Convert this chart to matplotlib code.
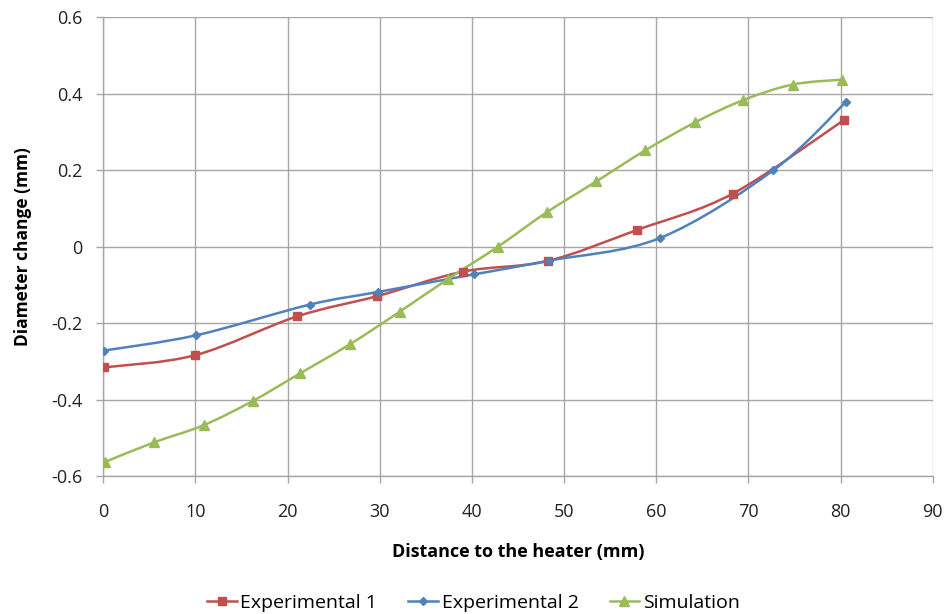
import matplotlib.pyplot as plt
from matplotlib.path import Path
from matplotlib.patches import PathPatch
from matplotlib.lines import Line2D
import numpy as np

# values
exp1_x = [0.1, 10.0, 21.0, 29.7, 39.0, 48.2, 57.9, 68.3, 80.4]
exp1_y = [-0.315, -0.283, -0.182, -0.129, -0.065, -0.037, 0.044, 0.139, 0.332]

exp2_x = [0.1, 10.1, 22.4, 29.8, 40.2, 48.4, 60.4, 72.7, 80.6]
exp2_y = [-0.271, -0.231, -0.151, -0.118, -0.072, -0.036, 0.023, 0.200, 0.379]

sim_x = [0.2, 5.5, 10.9, 16.2, 21.4, 26.8, 32.2, 37.4, 42.8, 48.1, 53.5, 58.8, 64.2, 69.4, 74.8, 80.2]
sim_y = [-0.562, -0.511, -0.466, -0.403, -0.330, -0.254, -0.169, -0.084, 0.0, 0.090, 0.171, 0.252, 0.325, 0.383, 0.424, 0.437]

labels = ['Experimental 1', 'Experimental 2', 'Simulation']
colors = ['#C0504D', '#4F81BD', '#9BBB59']
markers = ['s', 'D', '^']
msizes = [6, 4.5, 6.5]

plt.rcParams['font.family'] = ['Open Sans', 'DejaVu Sans']


def smooth_path(xs, ys):
    # Excel-like smoothed line: cubic Bezier through the points
    p = np.column_stack([xs, ys])
    n = len(p)
    verts = [p[0]]
    codes = [Path.MOVETO]
    for i in range(n - 1):
        p0 = p[i - 1] if i > 0 else p[i]
        p1 = p[i]
        p2 = p[i + 1]
        p3 = p[i + 2] if i + 2 < n else p[i + 1]
        c1 = p1 + (p2 - p0) / 6.0
        c2 = p2 - (p3 - p1) / 6.0
        verts += [c1, c2, p2]
        codes += [Path.CURVE4] * 3
    return Path(verts, codes)


fig = plt.figure(figsize=(9.47, 6.14), dpi=100)
ax = fig.add_axes([0.109, 0.224, 0.876, 0.748])

series = [(exp1_x, exp1_y), (exp2_x, exp2_y), (sim_x, sim_y)]
handles = []
for (xs, ys), lab, c, m, ms in zip(series, labels, colors, markers, msizes):
    ax.add_patch(PathPatch(smooth_path(xs, ys), facecolor='none', edgecolor=c, lw=1.8, zorder=3))
    ax.plot(xs, ys, linestyle='none', marker=m, color=c, markersize=ms, zorder=4)
    handles.append(Line2D([], [], color=c, lw=1.8, marker=m, markersize=ms))

ax.set_xlim(0, 90)
ax.set_ylim(-0.6, 0.6)
ax.set_xticks(range(0, 91, 10))
ax.set_yticks([-0.6, -0.4, -0.2, 0, 0.2, 0.4, 0.6])
ax.set_yticklabels(['-0.6', '-0.4', '-0.2', '0', '0.2', '0.4', '0.6'])
ax.grid(True, color='#A6A6A6', lw=1.0)
ax.set_axisbelow(True)
for s in ['top', 'right']:
    ax.spines[s].set_visible(False)
for s in ['left', 'bottom']:
    ax.spines[s].set_color('#A6A6A6')
    ax.spines[s].set_linewidth(1.0)
ax.tick_params(colors='#A6A6A6', length=5, width=1.0, labelcolor='#222222', labelsize=13)
ax.tick_params(axis='x', pad=14)
ax.tick_params(axis='y', pad=10)

ax.set_xlabel('Distance to the heater (mm)', fontsize=13, fontweight='bold', labelpad=16)
ax.set_ylabel('Diameter change (mm)', fontsize=12.5, fontweight='bold', labelpad=14)

fig.legend(handles, labels, loc='lower center', bbox_to_anchor=(0.5, -0.025), ncol=3,
           frameon=False, fontsize=14, handlelength=1.5, handletextpad=0.2, columnspacing=1.6)

fig.savefig('out.png', dpi=100)
